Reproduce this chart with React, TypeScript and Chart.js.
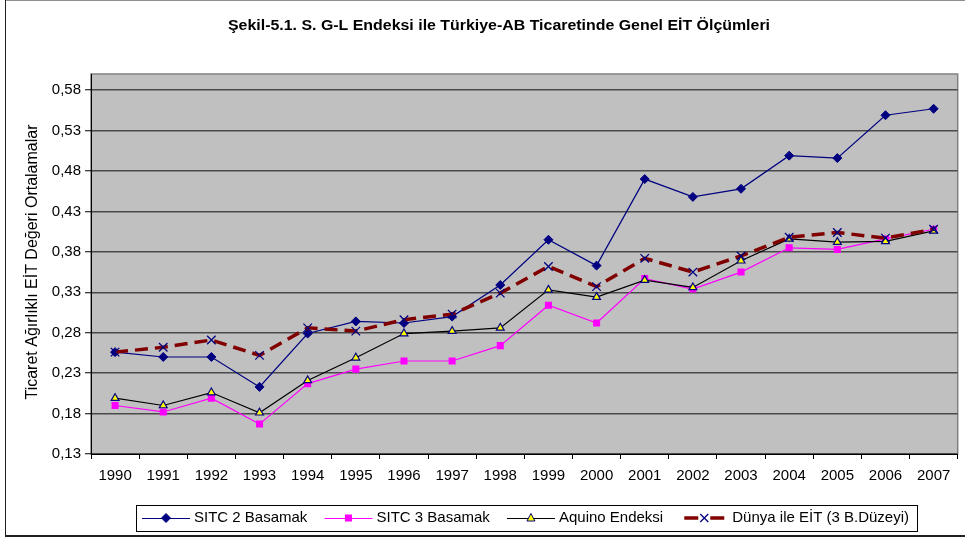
import React, { useEffect, useRef } from 'react';
import { Chart, registerables } from 'chart.js';

Chart.register(...registerables);

const years = ['1990', '1991', '1992', '1993', '1994', '1995', '1996', '1997', '1998', '1999', '2000', '2001', '2002', '2003', '2004', '2005', '2006', '2007'];
const sitc2 = [0.256, 0.250, 0.250, 0.213, 0.279, 0.294, 0.292, 0.300, 0.339, 0.395, 0.363, 0.470, 0.448, 0.458, 0.499, 0.496, 0.549, 0.557];
const sitc3 = [0.190, 0.182, 0.199, 0.167, 0.217, 0.235, 0.245, 0.245, 0.264, 0.314, 0.292, 0.347, 0.334, 0.355, 0.385, 0.383, 0.396, 0.408];
const aquino = [0.199, 0.190, 0.206, 0.181, 0.221, 0.249, 0.279, 0.282, 0.286, 0.333, 0.324, 0.345, 0.336, 0.369, 0.396, 0.392, 0.393, 0.406];
const dunya = [0.256, 0.262, 0.271, 0.252, 0.286, 0.282, 0.296, 0.303, 0.329, 0.362, 0.337, 0.372, 0.355, 0.375, 0.398, 0.404, 0.397, 0.408];
const yTicks = [0.13, 0.18, 0.23, 0.28, 0.33, 0.38, 0.43, 0.48, 0.53, 0.58];
const seriesNames = ['SITC 2 Basamak', 'SITC 3 Basamak', 'Aquino Endeksi', 'Dünya ile EİT (3 B.Düzeyi)'];
const titleText = 'Şekil-5.1. S. G-L Endeksi ile Türkiye-AB Ticaretinde Genel EİT Ölçümleri';
const yAxisTitle = 'Ticaret Ağırlıklı EİT Değeri Ortalamalar';

const FONT = '"Liberation Sans", Arial, sans-serif';
const NAVY = '#000080';

function drawMarker(ctx: CanvasRenderingContext2D, kind: number, x: number, y: number) {
  ctx.save();
  ctx.lineWidth = 1;
  if (kind === 0) {
    ctx.fillStyle = NAVY;
    ctx.strokeStyle = NAVY;
    ctx.beginPath();
    ctx.moveTo(x, y - 4.5);
    ctx.lineTo(x + 4.5, y);
    ctx.lineTo(x, y + 4.5);
    ctx.lineTo(x - 4.5, y);
    ctx.closePath();
    ctx.fill();
    ctx.stroke();
  } else if (kind === 1) {
    ctx.fillStyle = '#FF00FF';
    ctx.fillRect(x - 3.5, y - 3.5, 7, 7);
  } else if (kind === 2) {
    ctx.fillStyle = '#FFFF00';
    ctx.strokeStyle = NAVY;
    ctx.beginPath();
    ctx.moveTo(x, y - 4.5);
    ctx.lineTo(x + 4, y + 3);
    ctx.lineTo(x - 4, y + 3);
    ctx.closePath();
    ctx.fill();
    ctx.stroke();
  } else {
    ctx.strokeStyle = NAVY;
    ctx.lineWidth = 1.3;
    ctx.beginPath();
    ctx.moveTo(x - 4, y - 4);
    ctx.lineTo(x + 4, y + 4);
    ctx.moveTo(x + 4, y - 4);
    ctx.lineTo(x - 4, y + 4);
    ctx.stroke();
  }
  ctx.restore();
}

const decorPlugin = {
  id: 'decor',
  beforeDraw(chart: any) {
    const ctx = chart.ctx as CanvasRenderingContext2D;
    const a = chart.chartArea;
    ctx.save();
    ctx.fillStyle = '#ffffff';
    ctx.fillRect(0, 0, chart.width, chart.height);
    // outer frame
    ctx.strokeStyle = '#909090';
    ctx.lineWidth = 1;
    ctx.beginPath();
    ctx.moveTo(5, 0.5);
    ctx.lineTo(chart.width, 0.5);
    ctx.stroke();
    ctx.strokeStyle = '#202020';
    ctx.beginPath();
    ctx.moveTo(5.5, 0);
    ctx.lineTo(5.5, 536);
    ctx.stroke();
    ctx.lineWidth = 2;
    ctx.beginPath();
    ctx.moveTo(5, 536);
    ctx.lineTo(chart.width, 536);
    ctx.stroke();
    // plot area
    ctx.fillStyle = '#C0C0C0';
    ctx.fillRect(a.left, a.top, a.right - a.left, a.bottom - a.top);
    ctx.strokeStyle = '#808080';
    ctx.lineWidth = 1.5;
    ctx.strokeRect(a.left, a.top, a.right - a.left, a.bottom - a.top);
    ctx.restore();
  },
  afterDraw(chart: any) {
    const ctx = chart.ctx as CanvasRenderingContext2D;
    ctx.save();
    ctx.fillStyle = '#000';
    // title
    ctx.font = `bold 14px ${FONT}`;
    ctx.textAlign = 'center';
    ctx.textBaseline = 'middle';
    const tw = ctx.measureText(titleText).width;
    ctx.save();
    ctx.translate(499, 26);
    ctx.scale(542 / tw, 1);
    ctx.fillText(titleText, 0, 0);
    ctx.restore();
    // y title
    ctx.font = `16px ${FONT}`;
    ctx.save();
    ctx.translate(33, 262);
    ctx.rotate(-Math.PI / 2);
    ctx.fillText(yAxisTitle, 0, 0);
    ctx.restore();
    // legend
    const bx = 136.5, by = 505.5, bw = 781, bh = 26;
    ctx.fillStyle = '#fff';
    ctx.fillRect(bx, by, bw, bh);
    ctx.strokeStyle = '#000';
    ctx.lineWidth = 1;
    ctx.strokeRect(bx, by, bw, bh);
    ctx.font = `15px ${FONT}`;
    ctx.textAlign = 'left';
    const widths = seriesNames.map((n) => ctx.measureText(n).width);
    const sample = 48;
    const startX = 142;
    const endX = 909;
    const used = widths.reduce((s, w) => s + w, 0) + 4 * (sample + 4);
    const gap = (endX - startX - used) / 3;
    let x = startX;
    const cy = 518;
    const lineColors = [NAVY, '#FF00FF', '#000000', '#800000'];
    seriesNames.forEach((name, i) => {
      ctx.save();
      ctx.strokeStyle = lineColors[i];
      ctx.lineWidth = i === 3 ? 3.5 : 1;
      ctx.beginPath();
      if (i === 3) {
        ctx.moveTo(x + 4, cy);
        ctx.lineTo(x + 18, cy);
        ctx.moveTo(x + 30, cy);
        ctx.lineTo(x + 44, cy);
      } else {
        ctx.moveTo(x, cy + 0.5);
        ctx.lineTo(x + sample, cy + 0.5);
      }
      ctx.stroke();
      ctx.restore();
      drawMarker(ctx, i, x + sample / 2, cy);
      ctx.fillStyle = '#000';
      ctx.textBaseline = 'middle';
      ctx.fillText(name, x + sample + 4, cy);
      x += sample + 4 + widths[i] + gap;
    });
    ctx.restore();
  },
};

export default function App() {
  const ref = useRef<HTMLCanvasElement | null>(null);
  useEffect(() => {
    if (!ref.current) return;
    const chart = new Chart(ref.current, {
      type: 'line',
      data: {
        labels: years,
        datasets: [
          {
            label: seriesNames[0],
            data: sitc2,
            borderColor: NAVY,
            backgroundColor: NAVY,
            borderWidth: 1.2,
            pointStyle: 'rectRot',
            pointRadius: 4.5,
            pointBackgroundColor: NAVY,
            pointBorderColor: NAVY,
            pointBorderWidth: 1,
            tension: 0,
            order: 3,
          },
          {
            label: seriesNames[1],
            data: sitc3,
            borderColor: '#FF00FF',
            backgroundColor: '#FF00FF',
            borderWidth: 1.2,
            pointStyle: 'rect',
            pointRadius: 5,
            pointBackgroundColor: '#FF00FF',
            pointBorderColor: '#FF00FF',
            pointBorderWidth: 0,
            tension: 0,
            order: 2,
          },
          {
            label: seriesNames[2],
            data: aquino,
            borderColor: '#000000',
            backgroundColor: '#FFFF00',
            borderWidth: 1.2,
            pointStyle: 'triangle',
            pointRadius: 4.5,
            pointBackgroundColor: '#FFFF00',
            pointBorderColor: NAVY,
            pointBorderWidth: 1.2,
            tension: 0,
            order: 1,
          },
          {
            label: seriesNames[3],
            data: dunya,
            borderColor: '#800000',
            backgroundColor: '#800000',
            borderWidth: 3.5,
            borderDash: [13, 7],
            pointStyle: 'crossRot',
            pointRadius: 6,
            pointBackgroundColor: NAVY,
            pointBorderColor: NAVY,
            pointBorderWidth: 1.3,
            tension: 0,
            order: 0,
          },
        ],
      },
      options: {
        animation: false,
        responsive: false,
        layout: { padding: { top: 74, right: 2, bottom: 0, left: 0 } },
        plugins: {
          legend: { display: false },
          title: { display: false },
          tooltip: { enabled: false },
        },
        scales: {
          x: {
            type: 'category',
            offset: true,
            grid: {
              offset: true,
              drawOnChartArea: false,
              drawTicks: true,
              tickLength: 5,
              color: '#000',
              tickColor: '#000',
            },
            border: { display: true, color: '#000', width: 1 },
            ticks: {
              color: '#000',
              font: { family: FONT, size: 15 },
              padding: 8,
              maxRotation: 0,
              autoSkip: false,
            },
            afterFit: (scale: any) => {
              scale.height = 84;
            },
          },
          y: {
            type: 'linear',
            min: 0.13,
            max: 0.6,
            grid: {
              color: '#4a4a4a',
              lineWidth: 1.5,
              drawTicks: true,
              tickLength: 6,
              tickColor: '#000',
              tickWidth: 1,
            },
            border: { display: true, color: '#000', width: 1 },
            ticks: {
              color: '#000',
              font: { family: FONT, size: 15 },
              padding: 4,
              callback: (v: any) => Number(v).toFixed(2).replace('.', ','),
            },
            afterBuildTicks: (scale: any) => {
              scale.ticks = yTicks.map((v) => ({ value: v }));
            },
            afterFit: (scale: any) => {
              scale.width = 91;
            },
          },
        },
      },
      plugins: [decorPlugin],
    });
    return () => chart.destroy();
  }, []);
  return (
    <div style={{ position: 'absolute', left: 0, top: 0, width: 965, height: 538 }}>
      <canvas ref={ref} width={965} height={538} style={{ display: 'block' }} />
    </div>
  );
}
